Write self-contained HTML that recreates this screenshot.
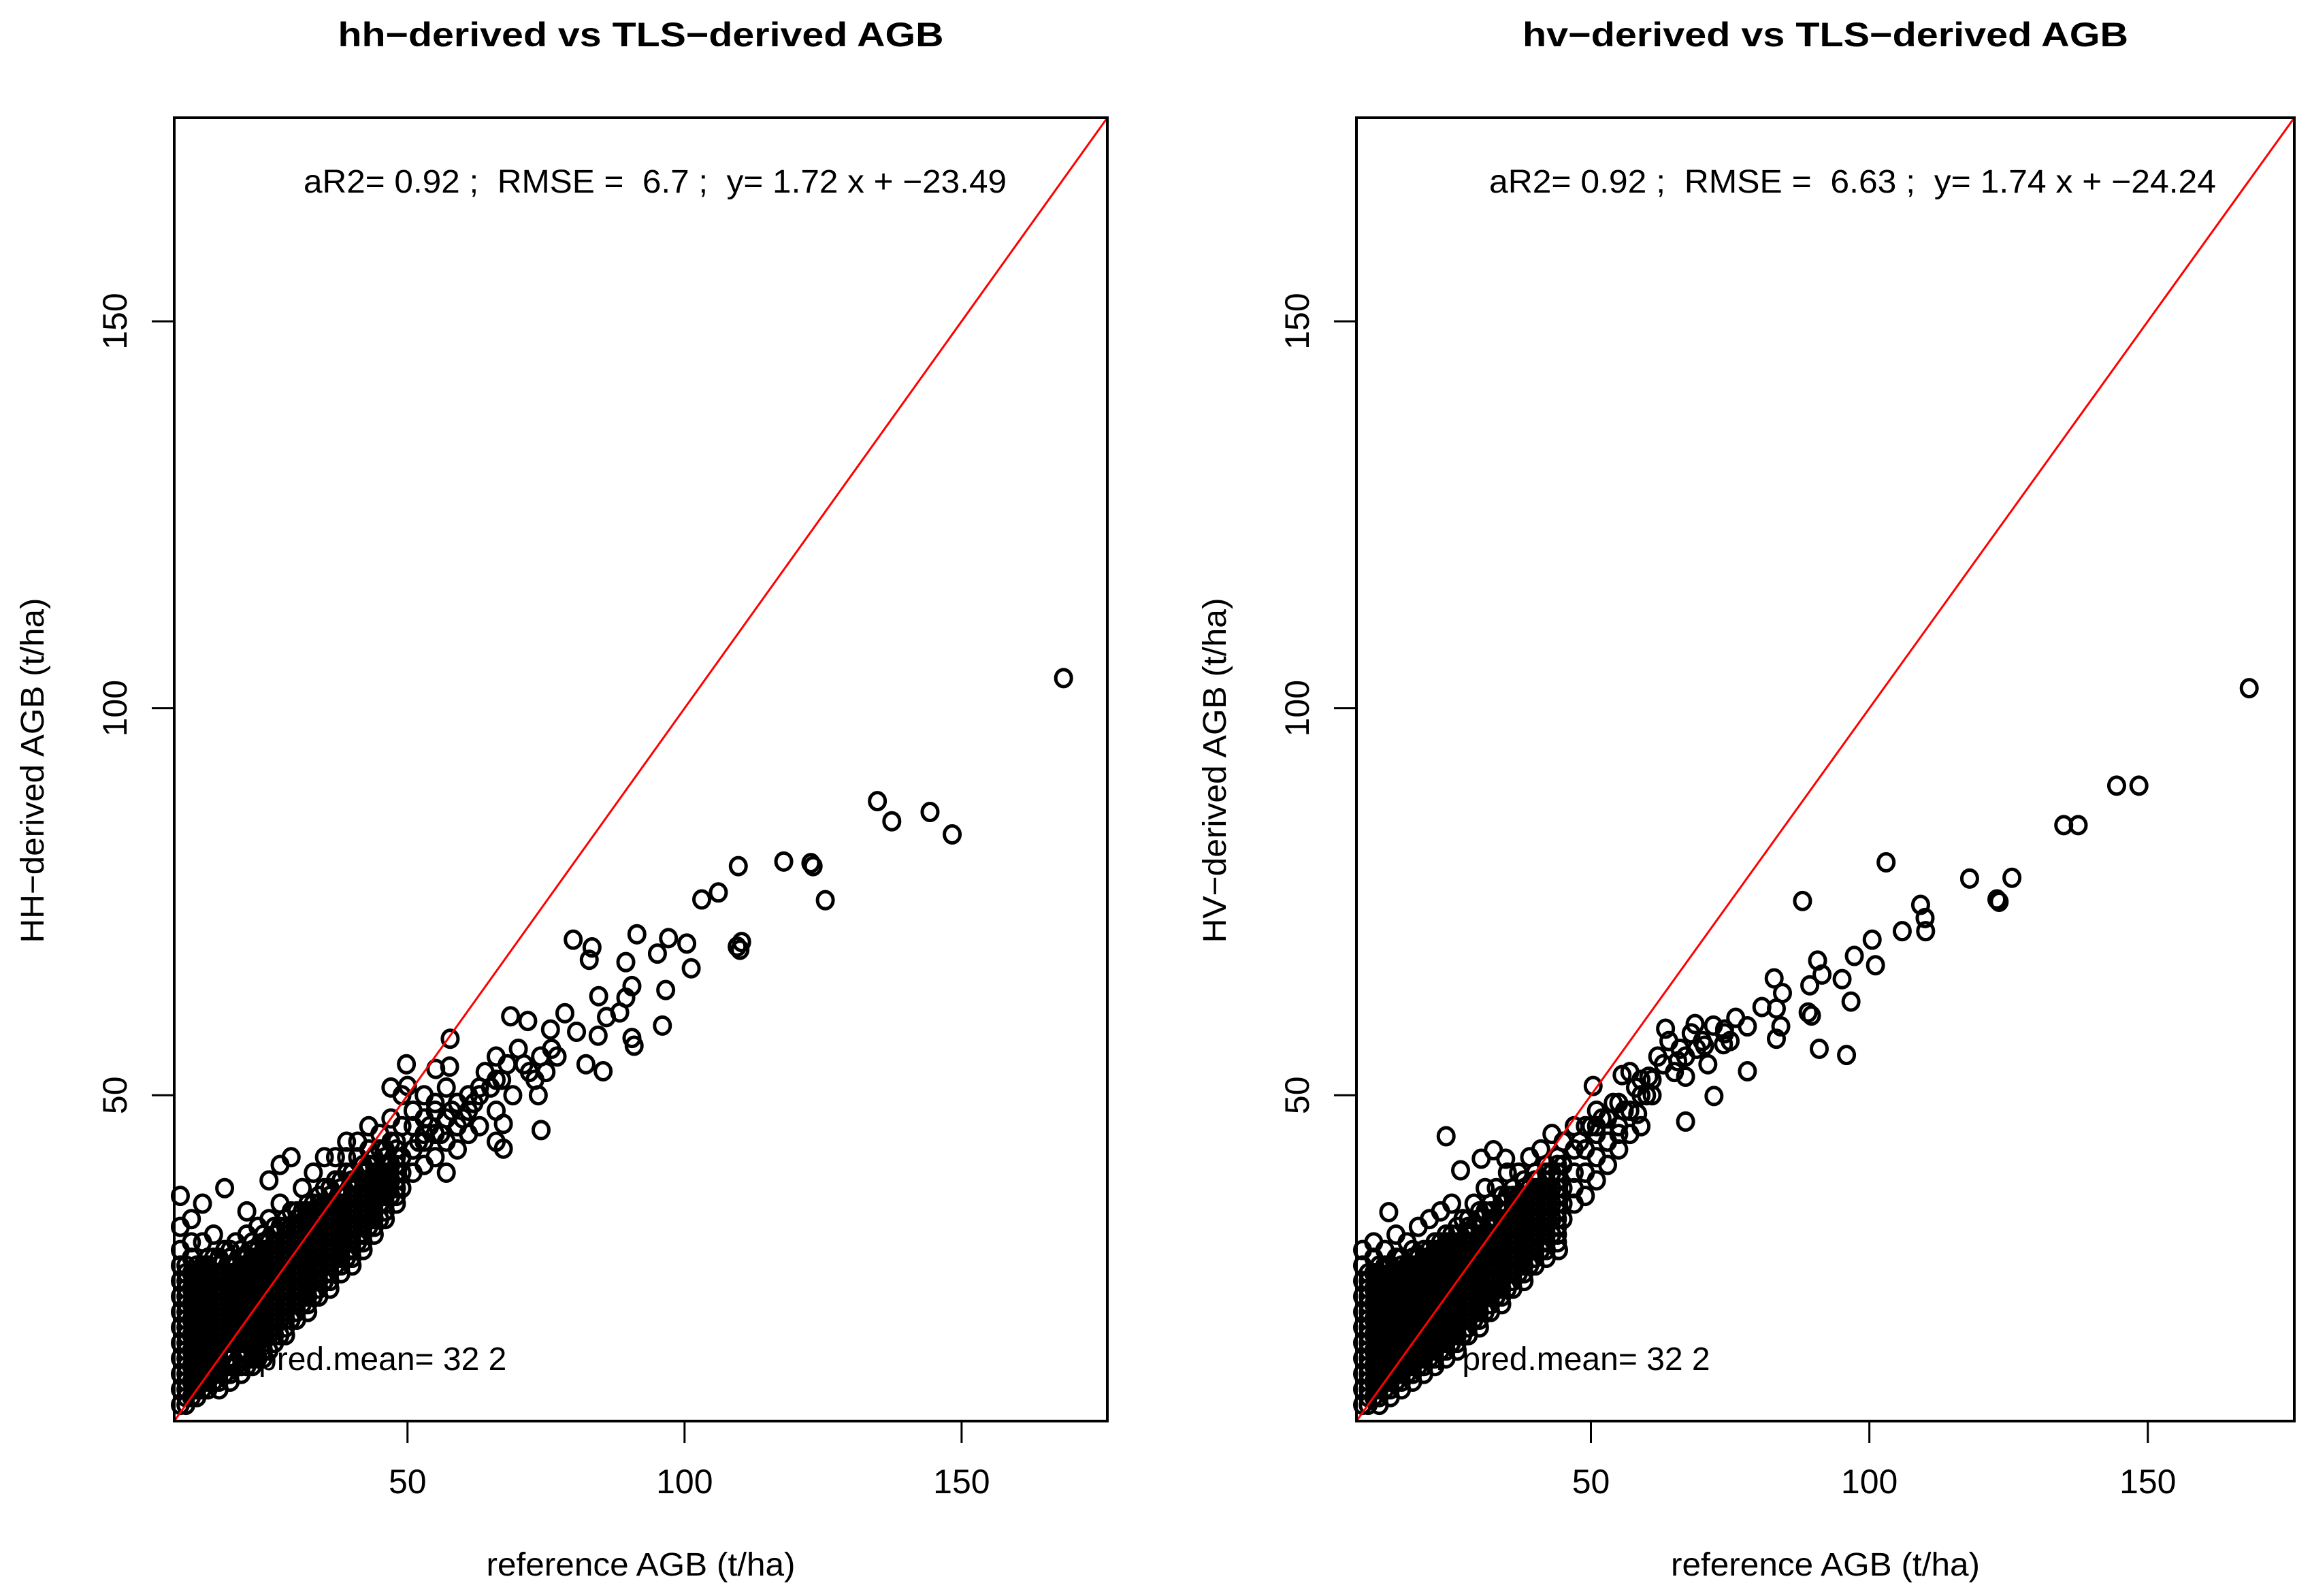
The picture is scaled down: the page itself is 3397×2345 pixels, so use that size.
<!DOCTYPE html>
<html><head><meta charset="utf-8"><style>
html,body{margin:0;padding:0;background:#fff}
svg{display:block}
text{font-family:"Liberation Sans",Arial,sans-serif;fill:#000;white-space:pre}
</style></head><body>
<svg id="chart" width="3397" height="2345" viewBox="0 0 3397 2345" xmlns="http://www.w3.org/2000/svg">
<rect x="0" y="0" width="3397" height="2345" fill="#fff"/>
<g id="p1"></g>
<g id="p2"></g>
</svg>
<script>
const xTicks=[50,100,150];
const yTicks=[50,100,150];
const domain=[7.9,176.3];
const titles=["hh\u2212derived vs TLS\u2212derived AGB","hv\u2212derived vs TLS\u2212derived AGB"];
const yTitles=["HH\u2212derived AGB (t/ha)","HV\u2212derived AGB (t/ha)"];
const xTitle="reference AGB (t/ha)";
const stats=["aR2= 0.92 ;  RMSE =  6.7 ;  y= 1.72 x + \u221223.49","aR2= 0.92 ;  RMSE =  6.63 ;  y= 1.74 x + \u221224.24"];
const notes=["4 ;  pred.mean= 32 2"," ;  pred.mean= 32 2"];

const hhX=[168.4,134.8,137.4,144.3,148.3,109.7,110.3,117.9,122.8,123.2,125.4,103.1,106.1,79.9,83.3,82.8,91.4,97.1,100.4,95.1,89.4,101.2,109.5,110.0,90.5,96.6,84.5,89.4,88.3,85.9,96.0,90.5,90.9,68.6,71.7,78.4,75.8,80.5,84.4,57.7,49.8,55.1,57.6,73.6,74.1,85.3,82.2,50.0,67.3,67.3,
64,66,68,70,72,74,76,65,67,69,71,73,75,77,62,60,58,56,54,52,63,61,59,57,55,53,51,
9,9,9,9,9,9,9,9,9,9,9,9,9,
11,11,11,11,11,11,11,11,11,11,11,11,
13,13,13,13,13,13,13,13,13,13,13,
15,15,15,15,15,15,15,15,15,15,
17,17,17,17,17,17,17,17,17,
19,19,19,19,19,19,19,19,
21,21,21,21,21,21,21,21,21,21,
23,23,23,23,23,23,23,23,23,
25,25,25,25,25,25,25,25,25,25,
27,27,27,27,27,27,27,27,27,27,
29,29,29,29,29,29,29,29,29,
31,31,31,31,31,31,31,31,
33,33,33,33,33,33,33,33,
35,35,35,35,35,35,35,35,
37,37,37,37,37,37,37,
39,39,39,39,39,39,39,39,
41,41,41,41,41,41,41,
43,43,43,43,43,43,43,
45,45,45,45,45,45,
47,47,47,47,47,47,
49,49,49,49,49,
51,51,51,51,53,53,53,53,55,55,55,57,57,57,57,59,59,59,61,61,63,63,66,66,66];
const hhY=[103.9,88.0,85.4,86.6,83.7,79.6,69.8,80.2,80.0,79.6,75.2,75.3,76.2,70.1,69.1,67.5,70.8,70.3,69.6,68.3,67.2,66.4,69.2,68.8,64.1,63.6,62.8,62.6,60.7,60.1,59.0,57.4,56.4,60.2,59.6,60.6,58.5,58.2,57.7,57.3,54.0,53.4,53.7,50.0,45.5,53.1,54.0,51.2,46.3,43.1,
53,55,54,56,53,55,56,51,52,50,54,52,53,55,49,47,48,45,46,44,51,50,49,47,48,45,43,
10,12,14,16,18,20,22,24,26,28,30,33,37,
11,13,15,17,19,21,23,25,27,29,31,34,
12,14,16,18,20,22,24,26,28,31,36,
13,15,17,19,21,23,25,27,29,32,
14,17,19,21,23,25,27,30,38,
15,18,20,22,24,26,28,31,
15,17,19,21,23,25,27,29,32,35,
16,18,20,22,24,26,28,30,33,
17,19,21,23,25,27,29,31,34,39,
19,21,23,25,27,29,31,33,36,41,
21,23,25,27,29,31,33,35,42,
23,25,27,29,31,33,35,38,
24,26,28,30,32,34,36,40,
26,28,30,32,34,36,38,42,
28,30,32,34,36,39,42,
29,31,33,35,37,40,42,44,
31,33,35,37,39,42,44,
33,35,37,39,41,43,46,
34,36,38,40,43,45,
37,39,41,44,47,51,
38,40,42,46,50,
40,43,46,48,41,44,47,50,42,45,49,40,44,47,51,43,46,49,45,48,46,50,44,48,52];

const hhDenseX=[10,10,10,10,10,10,10,10,10,10,10,10,10,10,10,10,10,10,10,
12,12,12,12,12,12,12,12,12,12,12,12,12,12,12,12,12,12,
14,14,14,14,14,14,14,14,14,14,14,14,14,14,14,14,14,14,
16,16,16,16,16,16,16,16,16,16,16,16,16,16,16,16,16,16,
18,18,18,18,18,18,18,18,18,18,18,18,18,18,18,18,18,18,
20,20,20,20,20,20,20,20,20,20,20,20,20,20,20,20,20,
22,22,22,22,22,22,22,22,22,22,22,22,22,22,22,22,22,
24,24,24,24,24,24,24,24,24,24,24,24,24,24,24,24,24,
26,26,26,26,26,26,26,26,26,26,26,26,26,26,26,26,
28,28,28,28,28,28,28,28,28,28,28,28,28,28,28,28,
30,30,30,30,30,30,30,30,30,30,30,30,30,30,30,
32,32,32,32,32,32,32,32,32,32,32,32,32,32,32,
34,34,34,34,34,34,34,34,34,34,34,34,34,34,
36,36,36,36,36,36,36,36,36,36,36,36,36,36,
38,38,38,38,38,38,38,38,38,38,38,38,38,
40,40,40,40,40,40,40,40,40,40,40,40,40,
42,42,42,42,42,42,42,42,42,42,42,42,
44,44,44,44,44,44,44,44,44,44,44,
46,46,46,46,46,46,46,46,46,46,
48,48,48,48,48,48,48,48,48];
const hhDenseY=[10,11,12,13,14,15,16,17,18,19,20,21,22,23,24,25,26,27,28,
11,12,13,14,15,16,17,18,19,20,21,22,23,24,25,26,27,28,
12,13,14,15,16,17,18,19,20,21,22,23,24,25,26,27,28,29,
12,13,14,15,16,17,18,19,20,21,22,23,24,25,26,27,28,29,
13,14,15,16,17,18,19,20,21,22,23,24,25,26,27,28,29,30,
14,15,16,17,18,19,20,21,22,23,24,25,26,27,28,29,30,
15,16,17,18,19,20,21,22,23,24,25,26,27,28,29,30,31,
16,17,18,19,20,21,22,23,24,25,26,27,28,29,30,31,32,
18,19,20,21,22,23,24,25,26,27,28,29,30,31,32,33,
19,20,21,22,23,24,25,26,27,28,29,30,31,32,33,34,
21,22,23,24,25,26,27,28,29,30,31,32,33,34,35,
22,23,24,25,26,27,28,29,30,31,32,33,34,35,36,
24,25,26,27,28,29,30,31,32,33,34,35,36,37,
25,26,27,28,29,30,31,32,33,34,35,36,37,38,
27,28,29,30,31,32,33,34,35,36,37,38,39,
28,29,30,31,32,33,34,35,36,37,38,39,40,
30,31,32,33,34,35,36,37,38,39,40,41,
32,33,34,35,36,37,38,39,40,41,42,
34,35,36,37,38,39,40,41,42,43,
36,37,38,39,40,41,42,43,44];

const hvX=[168.2,144.4,148.4,134.9,137.5,103.0,88.0,118.0,125.6,122.9,123.3,109.2,110.0,110.1,105.9,100.5,97.3,101.1,90.7,91.5,95.1,82.9,84.4,89.3,96.7,80.7,83.3,89.0,89.6,63.4,68.7,74.0,78.1,84.1,83.3,91.0,95.9,70.4,73.8,78.1,65.6,55.6,50.4,60.4,67.0,72.1,67.0,58.4,24.0,26.6,13.7,44.2,30.3,32.5,34.7,
62,64,66,68,70,72,74,76,61,63,65,67,69,71,75,58,60,56,54,52,50,48,57,59,61,55,53,51,49,
9,9,9,9,9,9,9,9,9,9,9,
11,11,11,11,11,11,11,11,11,11,11,
13,13,13,13,13,13,13,13,13,13,
15,15,15,15,15,15,15,15,15,15,
17,17,17,17,17,17,17,17,17,
19,19,19,19,19,19,19,19,19,
21,21,21,21,21,21,21,21,21,
23,23,23,23,23,23,23,23,23,
25,25,25,25,25,25,25,25,25,
27,27,27,27,27,27,27,27,
29,29,29,29,29,29,29,29,
31,31,31,31,31,31,31,31,
33,33,33,33,33,33,33,
35,35,35,35,35,35,35,35,
37,37,37,37,37,37,37,
39,39,39,39,39,39,39,
41,41,41,41,41,41,
43,43,43,43,43,43,
45,45,45,45,45,
47,47,47,47,47,
49,49,49,49,51,51,51,51,53,53,53,55,55,55,57,57,59,59];
const hvY=[102.6,90.0,90.0,84.9,84.9,80.1,75.1,78.0,78.1,75.3,75.0,74.6,72.9,71.2,71.2,70.1,68.0,66.8,67.4,65.6,65.0,65.1,63.2,64.2,62.1,61.4,61.2,60.7,60.3,58.6,59.2,58.5,58.9,58.9,57.3,56.0,55.2,56.4,56.6,53.1,54.4,52.6,51.2,52.4,52.4,49.9,46.6,47.6,44.7,40.3,34.9,30.0,41.8,42.9,41.8,
55,57,56,58,57,59,58,60,52,54,53,55,56,54,57,51,50,48,49,47,46,44,53,52,50,45,44,46,43,
10,12,14,16,18,20,22,24,26,28,30,
11,13,15,17,19,21,23,25,27,29,31,
12,14,16,18,20,22,24,26,28,30,
13,15,17,19,21,23,25,27,29,32,
14,16,18,20,22,24,26,28,31,
15,17,19,21,23,25,27,29,33,
16,18,20,22,24,26,28,30,34,
17,19,21,23,25,27,29,31,35,
18,20,22,24,26,28,30,32,36,
19,21,23,25,27,29,31,34,
21,23,25,27,29,31,33,36,
22,24,26,28,30,32,35,38,
24,26,28,30,32,34,38,
25,27,29,31,33,35,37,40,
27,29,31,33,35,37,40,
28,30,32,34,36,38,42,
30,32,34,36,38,43,
32,34,36,38,40,45,
34,36,38,41,44,
36,38,40,43,46,
37,40,43,46,39,42,45,48,41,44,47,43,46,49,45,48,46,50];

const hvDenseX=[10,10,10,10,10,10,10,10,10,10,10,10,10,10,10,10,10,10,
12,12,12,12,12,12,12,12,12,12,12,12,12,12,12,12,12,12,12,
14,14,14,14,14,14,14,14,14,14,14,14,14,14,14,14,14,14,
16,16,16,16,16,16,16,16,16,16,16,16,16,16,16,16,16,16,
18,18,18,18,18,18,18,18,18,18,18,18,18,18,18,18,18,18,
20,20,20,20,20,20,20,20,20,20,20,20,20,20,20,20,20,
22,22,22,22,22,22,22,22,22,22,22,22,22,22,22,22,22,
24,24,24,24,24,24,24,24,24,24,24,24,24,24,24,24,24,
26,26,26,26,26,26,26,26,26,26,26,26,26,26,26,26,26,
28,28,28,28,28,28,28,28,28,28,28,28,28,28,28,28,
30,30,30,30,30,30,30,30,30,30,30,30,30,30,30,30,
32,32,32,32,32,32,32,32,32,32,32,32,32,32,32,
34,34,34,34,34,34,34,34,34,34,34,34,34,34,34,
36,36,36,36,36,36,36,36,36,36,36,36,36,36,
38,38,38,38,38,38,38,38,38,38,38,38,38,38,
40,40,40,40,40,40,40,40,40,40,40,40,40,
42,42,42,42,42,42,42,42,42,42,42,42,42,
44,44,44,44,44,44,44,44,44,44,44,44];
const hvDenseY=[10,11,12,13,14,15,16,17,18,19,20,21,22,23,24,25,26,27,
10,11,12,13,14,15,16,17,18,19,20,21,22,23,24,25,26,27,28,
11,12,13,14,15,16,17,18,19,20,21,22,23,24,25,26,27,28,
12,13,14,15,16,17,18,19,20,21,22,23,24,25,26,27,28,29,
13,14,15,16,17,18,19,20,21,22,23,24,25,26,27,28,29,30,
14,15,16,17,18,19,20,21,22,23,24,25,26,27,28,29,30,
15,16,17,18,19,20,21,22,23,24,25,26,27,28,29,30,31,
16,17,18,19,20,21,22,23,24,25,26,27,28,29,30,31,32,
17,18,19,20,21,22,23,24,25,26,27,28,29,30,31,32,33,
19,20,21,22,23,24,25,26,27,28,29,30,31,32,33,34,
20,21,22,23,24,25,26,27,28,29,30,31,32,33,34,35,
22,23,24,25,26,27,28,29,30,31,32,33,34,35,36,
23,24,25,26,27,28,29,30,31,32,33,34,35,36,37,
25,26,27,28,29,30,31,32,33,34,35,36,37,38,
26,27,28,29,30,31,32,33,34,35,36,37,38,39,
28,29,30,31,32,33,34,35,36,37,38,39,40,
29,30,31,32,33,34,35,36,37,38,39,40,41,
31,32,33,34,35,36,37,38,39,40,41,42];

const NS="http://www.w3.org/2000/svg";
function mk(tag,attrs,parent){const e=document.createElementNS(NS,tag);for(const k in attrs)e.setAttribute(k,attrs[k]);parent.appendChild(e);return e;}
const panels=[
 {g:document.getElementById('p1'),L:256,R:1627,T:173,B:2088,xs:hhX.concat(hhDenseX),ys:hhY.concat(hhDenseY),statX:446,noteX:300,i:0},
 {g:document.getElementById('p2'),L:1993,R:3371,T:173,B:2088,xs:hvX.concat(hvDenseX),ys:hvY.concat(hvDenseY),statX:2188,noteX:2095,i:1}
];
panels.forEach(p=>{
 const sx=v=>p.L+(v-domain[0])/(domain[1]-domain[0])*(p.R-p.L);
 const sy=v=>p.B-(v-domain[0])/(domain[1]-domain[0])*(p.B-p.T);
 const g=p.g;const cx=(p.L+p.R)/2;
 let t=mk('text',{x:cx,y:68,'text-anchor':'middle','font-size':50,'font-weight':'bold',textLength:890,lengthAdjust:'spacingAndGlyphs'},g);t.textContent=titles[p.i];
 
 t=mk('text',{x:p.statX,y:283,'font-size':48,textLength:p.i==0?1033:1068,lengthAdjust:'spacingAndGlyphs'},g);t.textContent=stats[p.i];
 
 t=mk('text',{x:p.noteX,y:2013,'font-size':48},g);t.textContent=notes[p.i];
 
 const pts=mk('g',{fill:'none',stroke:'#000','stroke-width':5},g);
 
 for(let k=0;k<p.xs.length;k++){
  const c=mk('ellipse',{cx:sx(p.xs[k]),cy:sy(p.ys[k]),rx:11.5,ry:12.5},pts);
  
  
 }
 const ln=mk('line',{x1:sx(domain[0]),y1:sy(domain[0]),x2:sx(domain[1]),y2:sy(domain[1]),stroke:'#f00','stroke-width':3},g);
 
 const box=mk('rect',{x:p.L,y:p.T,width:p.R-p.L,height:p.B-p.T,fill:'none',stroke:'#000','stroke-width':4},g);
 
 xTicks.forEach(v=>{
  const tk=mk('line',{x1:sx(v),x2:sx(v),y1:p.B,y2:p.B+32,stroke:'#000','stroke-width':3},g);
  
  const tl=mk('text',{x:sx(v),y:2194,'text-anchor':'middle','font-size':50},g);tl.textContent=v;
  
 });
 yTicks.forEach(v=>{
  const tk=mk('line',{x1:p.L-33,x2:p.L,y1:sy(v),y2:sy(v),stroke:'#000','stroke-width':3},g);
  
  const xx=p.L-70,yy=sy(v);
  const tl=mk('text',{x:xx,y:yy,'text-anchor':'middle','font-size':50,transform:`rotate(-90 ${xx} ${yy})`},g);tl.textContent=v;
  
 });
 t=mk('text',{x:cx,y:2315,'text-anchor':'middle','font-size':48,textLength:454,lengthAdjust:'spacingAndGlyphs'},g);t.textContent=xTitle;
 
 const yx=p.L-192,yc=1132;
 t=mk('text',{x:yx,y:yc,'text-anchor':'middle','font-size':48,textLength:507,lengthAdjust:'spacingAndGlyphs',transform:`rotate(-90 ${yx} ${yc})`},g);t.textContent=yTitles[p.i];
 
});
</script>
</body></html>
